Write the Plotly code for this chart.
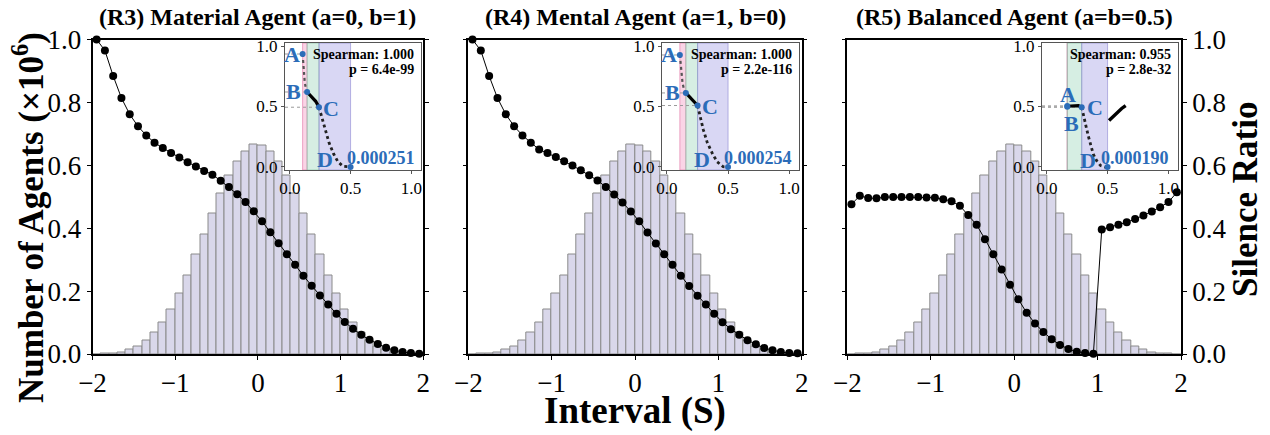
import plotly.graph_objects as go

# ---------------- data ----------------
interval_centers = [-1.95, -1.85, -1.75, -1.65, -1.55, -1.45, -1.35, -1.25, -1.15, -1.05,
                    -0.95, -0.85, -0.75, -0.65, -0.55, -0.45, -0.35, -0.25, -0.15, -0.05,
                    0.05, 0.15, 0.25, 0.35, 0.45, 0.55, 0.65, 0.75, 0.85, 0.95,
                    1.05, 1.15, 1.25, 1.35, 1.45, 1.55, 1.65, 1.75, 1.85, 1.95]

agent_counts = [0.000, 0.001, 0.002, 0.005, 0.013, 0.025, 0.042, 0.069, 0.099, 0.142,
                0.192, 0.250, 0.316, 0.380, 0.447, 0.511, 0.566, 0.613, 0.644, 0.666,
                0.663, 0.644, 0.611, 0.566, 0.511, 0.447, 0.380, 0.316, 0.250, 0.192,
                0.142, 0.099, 0.069, 0.042, 0.025, 0.013, 0.005, 0.002, 0.001, 0.000]

silence_r3 = [1.000, 0.965, 0.884, 0.814, 0.762, 0.724, 0.695, 0.672, 0.655, 0.639,
              0.625, 0.610, 0.596, 0.582, 0.570, 0.551, 0.531, 0.508, 0.483, 0.454,
              0.422, 0.387, 0.352, 0.317, 0.284, 0.249, 0.217, 0.186, 0.157, 0.128,
              0.102, 0.080, 0.061, 0.045, 0.032, 0.020, 0.012, 0.006, 0.003, 0.001]

silence_r4 = [1.000, 0.965, 0.884, 0.814, 0.762, 0.724, 0.695, 0.672, 0.650, 0.639,
              0.626, 0.613, 0.599, 0.584, 0.568, 0.552, 0.531, 0.507, 0.482, 0.453,
              0.422, 0.386, 0.351, 0.317, 0.284, 0.249, 0.216, 0.185, 0.157, 0.128,
              0.101, 0.079, 0.061, 0.044, 0.031, 0.019, 0.012, 0.006, 0.003, 0.002]

silence_r5 = [0.476, 0.503, 0.496, 0.495, 0.499, 0.499, 0.499, 0.499, 0.499, 0.498,
              0.497, 0.492, 0.486, 0.471, 0.442, 0.411, 0.365, 0.317, 0.269, 0.220,
              0.174, 0.131, 0.097, 0.070, 0.047, 0.029, 0.016, 0.007, 0.003, 0.001,
              0.396, 0.403, 0.411, 0.419, 0.429, 0.440, 0.453, 0.467, 0.483, 0.514]

titles = ["(R3) Material Agent (a=0, b=1)", "(R4) Mental Agent (a=1, b=0)",
          "(R5) Balanced Agent (a=b=0.5)"]

# inset curves
inset_r3_x = [0.105, 0.110, 0.115, 0.123, 0.132, 0.142, 0.178, 0.213, 0.240, 0.260, 0.287, 0.322, 0.361, 0.396, 0.437, 0.500]
inset_r3_y = [0.934, 0.858, 0.776, 0.694, 0.653, 0.620, 0.584, 0.543, 0.494, 0.420, 0.311, 0.202, 0.107, 0.043, 0.006, 0.000]
inset_r4_x = [0.106, 0.112, 0.120, 0.128, 0.139, 0.155, 0.188, 0.221, 0.251, 0.270, 0.297, 0.330, 0.374, 0.411, 0.460, 0.500]
inset_r4_y = [0.926, 0.858, 0.776, 0.694, 0.645, 0.612, 0.576, 0.543, 0.508, 0.420, 0.311, 0.202, 0.107, 0.043, 0.002, 0.000]
inset_r5_x = [0.168, 0.217, 0.259, 0.287, 0.306, 0.322, 0.341, 0.361, 0.382, 0.410, 0.443, 0.479, 0.500]
inset_r5_y = [0.502, 0.508, 0.508, 0.494, 0.420, 0.339, 0.257, 0.175, 0.107, 0.052, 0.011, 0.000, 0.000]
inset_r5_tail_x = [0.512, 0.547, 0.580, 0.616, 0.649]
inset_r5_tail_y = [0.385, 0.420, 0.457, 0.484, 0.508]

key_labels = ["A", "B", "C", "D"]
key_r3_x = [0.105, 0.142, 0.240, 0.500]
key_r3_y = [0.934, 0.620, 0.494, 0.000]
key_r4_x = [0.106, 0.155, 0.251, 0.500]
key_r4_y = [0.926, 0.612, 0.508, 0.000]
key_r5_x = [0.168, 0.168, 0.287, 0.500]
key_r5_y = [0.505, 0.497, 0.494, 0.000]

d_values = ["0.000251", "0.000254", "0.000190"]
spearman = ["1.000", "1.000", "0.955"]
p_values = ["6.4e-99", "2.2e-116", "2.8e-32"]

# ---------------- layout geometry (pixels) ----------------
W, H = 1270, 435
panel_px = [(92.5, 423.3), (468.3, 801.7), (847.3, 1181.0)]
panel_py = (39.5, 354.0)
inset_px = [(285, 421), (662, 799), (1042, 1178)]
inset_py = (43, 170)
IX_RANGE = [-0.04, 1.08]
IY_RANGE = [-0.025, 1.025]

SERIF = "Liberation Serif"
BLUE = "#2b6cb8"
BAR_FILL = "#d9d7ea"
BAR_EDGE = "#8a8a8a"
PINK, GREEN, PURPLE = "rgba(245,160,200,0.45)", "rgba(165,218,192,0.45)", "rgba(165,160,228,0.42)"
PINK_E, GREEN_E, PURPLE_E = "rgba(230,130,175,0.7)", "rgba(130,190,160,0.6)", "rgba(140,135,210,0.6)"

def fx(p):
    return p / W

def fy(p):
    return 1 - p / H

fig = go.Figure()
layout = dict(width=W, height=H, margin=dict(l=0, r=0, t=0, b=0, pad=0), autosize=False,
              paper_bgcolor="white", plot_bgcolor="white", showlegend=False,
              bargap=0, font=dict(family=SERIF, color="black"))
annotations = []

silences = [silence_r3, silence_r4, silence_r5]
insets = [(inset_r3_x, inset_r3_y, key_r3_x, key_r3_y),
          (inset_r4_x, inset_r4_y, key_r4_x, key_r4_y),
          (inset_r5_x, inset_r5_y, key_r5_x, key_r5_y)]

for i in range(3):
    n = i + 1
    xa = "x" if n == 1 else f"x{n}"
    ya = "y" if n == 1 else f"y{n}"
    yr = f"y{n+3}"
    xi = f"x{n+3}"
    yi = f"y{n+6}"

    # histogram
    fig.add_trace(go.Bar(x=interval_centers, y=agent_counts, width=0.1, xaxis=xa, yaxis=ya,
                         marker=dict(color=BAR_FILL, line=dict(color=BAR_EDGE, width=1))))
    # silence ratio
    fig.add_trace(go.Scatter(x=interval_centers, y=silences[i], xaxis=xa, yaxis=yr,
                             mode="lines+markers", cliponaxis=False,
                             line=dict(color="black", width=1),
                             marker=dict(color="black", size=8)))

    axis_common = dict(showgrid=False, zeroline=False, showline=True, linecolor="black",
                       linewidth=1.5, ticks="outside", ticklen=4, tickwidth=1.2,
                       tickcolor="black", automargin=False,
                       tickfont=dict(family=SERIF, size=27, color="black"))
    layout["xaxis" if n == 1 else f"xaxis{n}"] = dict(
        axis_common, domain=[fx(panel_px[i][0]), fx(panel_px[i][1])], anchor=ya,
        range=[-2, 2], tickvals=[-2, -1, 0, 1, 2], mirror=True)
    layout["yaxis" if n == 1 else f"yaxis{n}"] = dict(
        axis_common, domain=[fy(panel_py[1]), fy(panel_py[0])], anchor=xa,
        range=[0, 1], tickvals=[0, 0.2, 0.4, 0.6, 0.8, 1.0], tickformat=".1f",
        showticklabels=(n == 1), mirror=True)
    layout[f"yaxis{n+3}"] = dict(
        axis_common, overlaying=ya, side="right", anchor=xa,
        range=[0, 1], tickvals=[0, 0.2, 0.4, 0.6, 0.8, 1.0], tickformat=".1f",
        showticklabels=(n == 3))

    # ---- inset ----
    cx, cy, kx, ky = insets[i]
    inset_axis = dict(showgrid=False, zeroline=False, showline=True, linecolor="#555",
                      linewidth=1, mirror=True, ticks="outside", ticklen=3, tickwidth=1,
                      tickcolor="#555", tickvals=[0, 0.5, 1.0], tickformat=".1f",
                      automargin=False,
                      tickfont=dict(family=SERIF, size=17, color="black"))
    layout[f"xaxis{n+3}"] = dict(inset_axis, domain=[fx(inset_px[i][0]), fx(inset_px[i][1])],
                                 anchor=yi, range=IX_RANGE)
    layout[f"yaxis{n+6}"] = dict(inset_axis, domain=[fy(inset_py[1]), fy(inset_py[0])],
                                 anchor=xi, range=IY_RANGE)

    # shaded bands A-B, B-C, C-D (drawn as filled traces inside the inset)
    for (x0, x1, col, ecol) in [(kx[0], kx[1], PINK, PINK_E), (kx[1], kx[2], GREEN, GREEN_E),
                                (kx[2], kx[3], PURPLE, PURPLE_E)]:
        fig.add_trace(go.Scatter(x=[x0, x1, x1, x0, x0],
                                 y=[IY_RANGE[0], IY_RANGE[0], IY_RANGE[1], IY_RANGE[1], IY_RANGE[0]],
                                 xaxis=xi, yaxis=yi, mode="lines", fill="toself",
                                 fillcolor=col, line=dict(color=ecol, width=1)))
    # dotted guide lines to A, B, C
    for j in range(3):
        fig.add_trace(go.Scatter(x=[IX_RANGE[0], kx[j]], y=[ky[j], ky[j]], xaxis=xi, yaxis=yi,
                                 mode="lines", line=dict(color="#9a9a9a", width=1, dash="dot")))

    # curve segments
    bx, c_x = kx[1], kx[2]
    seg_ab = [(x, y) for x, y in zip(cx, cy) if x <= bx]
    seg_bc = [(x, y) for x, y in zip(cx, cy) if bx <= x <= c_x]
    seg_cd = [(x, y) for x, y in zip(cx, cy) if x >= c_x]
    if len(seg_ab) > 1:
        fig.add_trace(go.Scatter(x=[p[0] for p in seg_ab], y=[p[1] for p in seg_ab],
                                 xaxis=xi, yaxis=yi, mode="lines",
                                 line=dict(color="#555", width=2.2, dash="dot")))
    fig.add_trace(go.Scatter(x=[p[0] for p in seg_bc], y=[p[1] for p in seg_bc],
                             xaxis=xi, yaxis=yi, mode="lines",
                             line=dict(color="black", width=3.2)))
    fig.add_trace(go.Scatter(x=[p[0] for p in seg_cd], y=[p[1] for p in seg_cd],
                             xaxis=xi, yaxis=yi, mode="lines",
                             line=dict(color="#222", width=2.8, dash="dot")))
    if n == 3:
        fig.add_trace(go.Scatter(x=inset_r5_tail_x, y=inset_r5_tail_y,
                                 xaxis=xi, yaxis=yi, mode="lines",
                                 line=dict(color="black", width=3.4)))
    # key points
    fig.add_trace(go.Scatter(x=kx, y=ky, xaxis=xi, yaxis=yi, mode="markers", cliponaxis=False,
                             marker=dict(color=BLUE, size=6)))

    # key labels
    lab_font = dict(family=SERIF, size=22, color=BLUE, weight="bold")
    if n in (1, 2):
        offs = [(-1, 0, "right"), (-4, 0, "right"), (2, -1, "left"), (-16, 7, "right")]
    else:
        offs = [(1, 11, "center"), (4, -17, "center"), (3, 0, "left"), (-10, 6, "right")]
    for j in range(4):
        annotations.append(dict(xref=xi, yref=yi, x=kx[j], y=ky[j], text=key_labels[j],
                                showarrow=False, xanchor=offs[j][2], yanchor="middle",
                                xshift=offs[j][0], yshift=offs[j][1], font=lab_font))
    annotations.append(dict(xref=xi, yref=yi, x=kx[3], y=ky[3], text=d_values[i],
                            showarrow=False, xanchor="left", yanchor="middle",
                            xshift=-6 if n != 3 else -9, yshift=9,
                            font=dict(family=SERIF, size=18, color=BLUE, weight="bold")))
    # spearman text
    sp_font = dict(family=SERIF, size=14, color="black", weight="bold")
    annotations.append(dict(xref=f"{xi} domain", yref=f"{yi} domain", x=1, y=1,
                            text=f"Spearman: {spearman[i]}", showarrow=False,
                            xanchor="right", yanchor="middle", xshift=-5, yshift=-11,
                            font=sp_font))
    annotations.append(dict(xref=f"{xi} domain", yref=f"{yi} domain", x=1, y=1,
                            text=f"p = {p_values[i]}", showarrow=False,
                            xanchor="right", yanchor="middle", xshift=-5, yshift=-26,
                            font=sp_font))

    # panel title
    annotations.append(dict(xref="paper", yref="paper",
                            x=fx((panel_px[i][0] + panel_px[i][1]) / 2), y=fy(17),
                            text=titles[i], showarrow=False, xanchor="center", yanchor="middle",
                            font=dict(family=SERIF, size=24, color="black", weight="bold")))

# axis titles
annotations.append(dict(xref="paper", yref="paper", x=fx(29), y=fy(218),
                        text="Number of Agents (×10<sup>6</sup>)", textangle=-90,
                        showarrow=False, xanchor="center", yanchor="middle",
                        font=dict(family=SERIF, size=35, color="black", weight="bold")))
annotations.append(dict(xref="paper", yref="paper", x=fx(1245), y=fy(200),
                        text="Silence Ratio", textangle=-90,
                        showarrow=False, xanchor="center", yanchor="middle",
                        font=dict(family=SERIF, size=35, color="black", weight="bold")))
annotations.append(dict(xref="paper", yref="paper", x=fx(635), y=0,
                        text="Interval (S)", showarrow=False, xanchor="center", yanchor="bottom",
                        yshift=1, font=dict(family=SERIF, size=37, color="black", weight="bold")))

layout["annotations"] = annotations
fig.update_layout(**layout)
fig.write_html("out.html", config={"displayModeBar": False},
               post_script="document.body.style.margin='0px';document.body.style.padding='0px';")
